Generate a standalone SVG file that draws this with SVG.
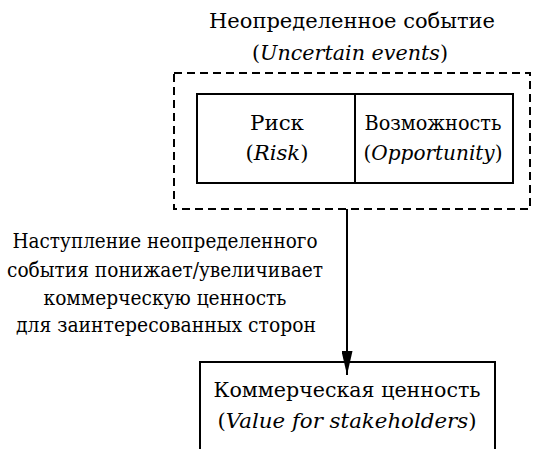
<svg xmlns="http://www.w3.org/2000/svg" width="537" height="449" viewBox="0 0 537 449">
<style>
.t{font-family:"DejaVu Serif","Liberation Serif",serif;font-size:20px;fill:#000;text-anchor:middle}
.i{font-style:italic}
.box{fill:#fff;stroke:#000;stroke-width:2}
.dash{fill:none;stroke:#000;stroke-width:2;stroke-dasharray:8,5}
.line{stroke:#000;stroke-width:2;fill:none}
</style>
<defs>
<marker id="arr" markerWidth="24" markerHeight="11" refX="24" refY="5.5" orient="auto" markerUnits="userSpaceOnUse" viewBox="0 0 24 11">
<path d="M0,0 L24,5.5 L0,11 Z" fill="#000"/>
</marker>
</defs>
<g id="uncertain">
<text class="t" x="352" y="28" textLength="286" lengthAdjust="spacingAndGlyphs">Неопределенное событие</text>
<text class="t" x="350" y="60" textLength="196" lengthAdjust="spacingAndGlyphs">(<tspan class="i">Uncertain events</tspan>)</text>
<rect class="dash" x="174" y="73" width="356" height="136"/>
</g>
<g id="risk">
<rect class="box" x="197" y="94" width="158" height="89"/>
<text class="t" x="277" y="130" textLength="54" lengthAdjust="spacingAndGlyphs">Риск</text>
<text class="t" x="277" y="160" textLength="63" lengthAdjust="spacingAndGlyphs">(<tspan class="i">Risk</tspan>)</text>
</g>
<g id="opportunity">
<rect class="box" x="355" y="94" width="158" height="89"/>
<text class="t" x="433" y="130" textLength="137" lengthAdjust="spacingAndGlyphs">Возможность</text>
<text class="t" x="433" y="160" textLength="139" lengthAdjust="spacingAndGlyphs">(<tspan class="i">Opportunity</tspan>)</text>
</g>
<g id="connectors">
<line class="line" x1="347" y1="209" x2="347" y2="375" marker-end="url(#arr)"/>
<text class="t" x="165" y="248" textLength="305" lengthAdjust="spacingAndGlyphs">Наступление неопределенного</text>
<text class="t" x="165" y="277" textLength="316" lengthAdjust="spacingAndGlyphs">события понижает/увеличивает</text>
<text class="t" x="165" y="305" textLength="243" lengthAdjust="spacingAndGlyphs">коммерческую ценность</text>
<text class="t" x="166" y="332" textLength="300" lengthAdjust="spacingAndGlyphs">для заинтересованных сторон</text>
</g>
<g id="value">
<path class="line" d="M200,449 V362 H495 V449"/>
<text class="t" x="347" y="397" textLength="267" lengthAdjust="spacingAndGlyphs">Коммерческая ценность</text>
<text class="t" x="347" y="428" textLength="259" lengthAdjust="spacingAndGlyphs">(<tspan class="i">Value for stakeholders</tspan>)</text>
</g>
</svg>
